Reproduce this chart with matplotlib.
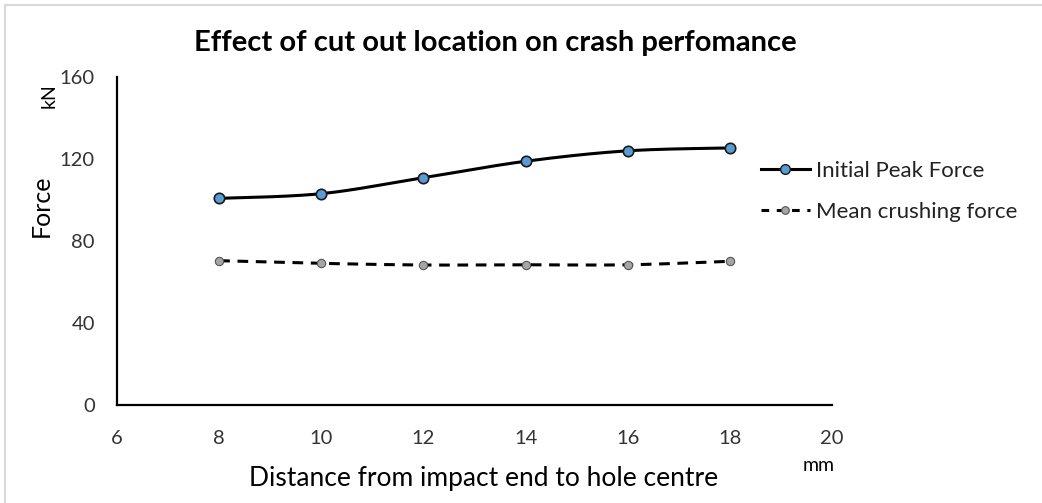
import numpy as np
import matplotlib
matplotlib.use("Agg")
import matplotlib.pyplot as plt
from matplotlib.lines import Line2D
from matplotlib.patches import Rectangle

plt.rcParams['font.family'] = ['Lato', 'DejaVu Sans']

distance = [8, 10, 12, 14, 16, 18]
initial_peak = [100.8, 103.1, 110.9, 118.9, 124.0, 125.4]
mean_crushing = [70.4, 69.1, 68.3, 68.4, 68.4, 70.1]
x_ticks = [6, 8, 10, 12, 14, 16, 18, 20]
y_ticks = [0, 40, 80, 120, 160]


def smooth(xs, ys, n=30):
    xs = np.asarray(xs, float); ys = np.asarray(ys, float)
    P = np.column_stack([xs, ys])
    out = []
    for i in range(len(P) - 1):
        p0 = P[i - 1] if i > 0 else P[i]
        p1 = P[i]; p2 = P[i + 1]
        p3 = P[i + 2] if i + 2 < len(P) else P[i + 1]
        c1 = p1 + (p2 - p0) / 6.0
        c2 = p2 - (p3 - p1) / 6.0
        t = np.linspace(0, 1, n)[:, None]
        seg = ((1 - t) ** 3) * p1 + 3 * ((1 - t) ** 2) * t * c1 + 3 * (1 - t) * t ** 2 * c2 + t ** 3 * p2
        out.append(seg if i == 0 else seg[1:])
    S = np.vstack(out)
    return S[:, 0], S[:, 1]


fig = plt.figure(figsize=(10.42, 5.03), dpi=100)
ax = fig.add_axes([0.1123, 0.1948, 0.6862, 0.6521])

# figure border
fig.patches.append(Rectangle((0.005, -0.01), 1.2, 1.0, transform=fig.transFigure,
                             fill=False, edgecolor='#d9d9d9', linewidth=1.5))

sx, sy = smooth(distance, initial_peak)
ax.plot(sx, sy, color='black', lw=2.2, zorder=2)
ax.plot(distance, initial_peak, ls='none', marker='o', ms=7.5, mfc='#5B9BD5',
        mec='#1a1a1a', mew=1.2, zorder=3)

mx, my = smooth(distance, mean_crushing)
ax.plot(mx, my, color='black', lw=2.2, ls=(0, (3.5, 2.5)), zorder=2)
ax.plot(distance, mean_crushing, ls='none', marker='o', ms=6, mfc='#A5A5A5',
        mec='#555555', mew=0.8, zorder=3)

ax.set_xlim(6, 20)
ax.set_ylim(0, 160)
ax.set_xticks(x_ticks)
ax.set_yticks(y_ticks)
ax.tick_params(length=0, labelsize=14.5, colors='#333333')
ax.tick_params(axis='y', pad=16)
ax.tick_params(axis='x', pad=18)
for s in ['top', 'right']:
    ax.spines[s].set_visible(False)
for s in ['left', 'bottom']:
    ax.spines[s].set_linewidth(1.6)
    ax.spines[s].set_color('black')

fig.text(0.475, 0.915, 'Effect of cut out location on crash perfomance',
         ha='center', va='center', fontsize=21, fontweight='bold')
fig.text(0.040, 0.59, 'Force', rotation=90, ha='center', va='center', fontsize=18)
fig.text(0.047, 0.81, 'kN', rotation=90, ha='center', va='center', fontsize=14)
fig.text(0.464, 0.048, 'Distance from impact end to hole centre',
         ha='center', va='center', fontsize=19)
fig.text(0.786, 0.075, 'mm', ha='center', va='center', fontsize=14)

handles = [
    Line2D([], [], color='black', lw=2.2, marker='o', ms=7, mfc='#5B9BD5', mec='#1a1a1a'),
    Line2D([], [], color='black', lw=2.2, ls=(0, (2.5, 2.5)), marker='o', ms=5.5,
           mfc='#A5A5A5', mec='#555555', mew=0.8),
]
fig.legend(handles, ['Initial Peak Force', 'Mean crushing force'],
           loc='center left', bbox_to_anchor=(0.711, 0.62), frameon=False,
           fontsize=16, handlelength=2.2, handletextpad=0.3, labelspacing=0.95,
           labelcolor='#222222')

fig.savefig('out.png', dpi=100)
